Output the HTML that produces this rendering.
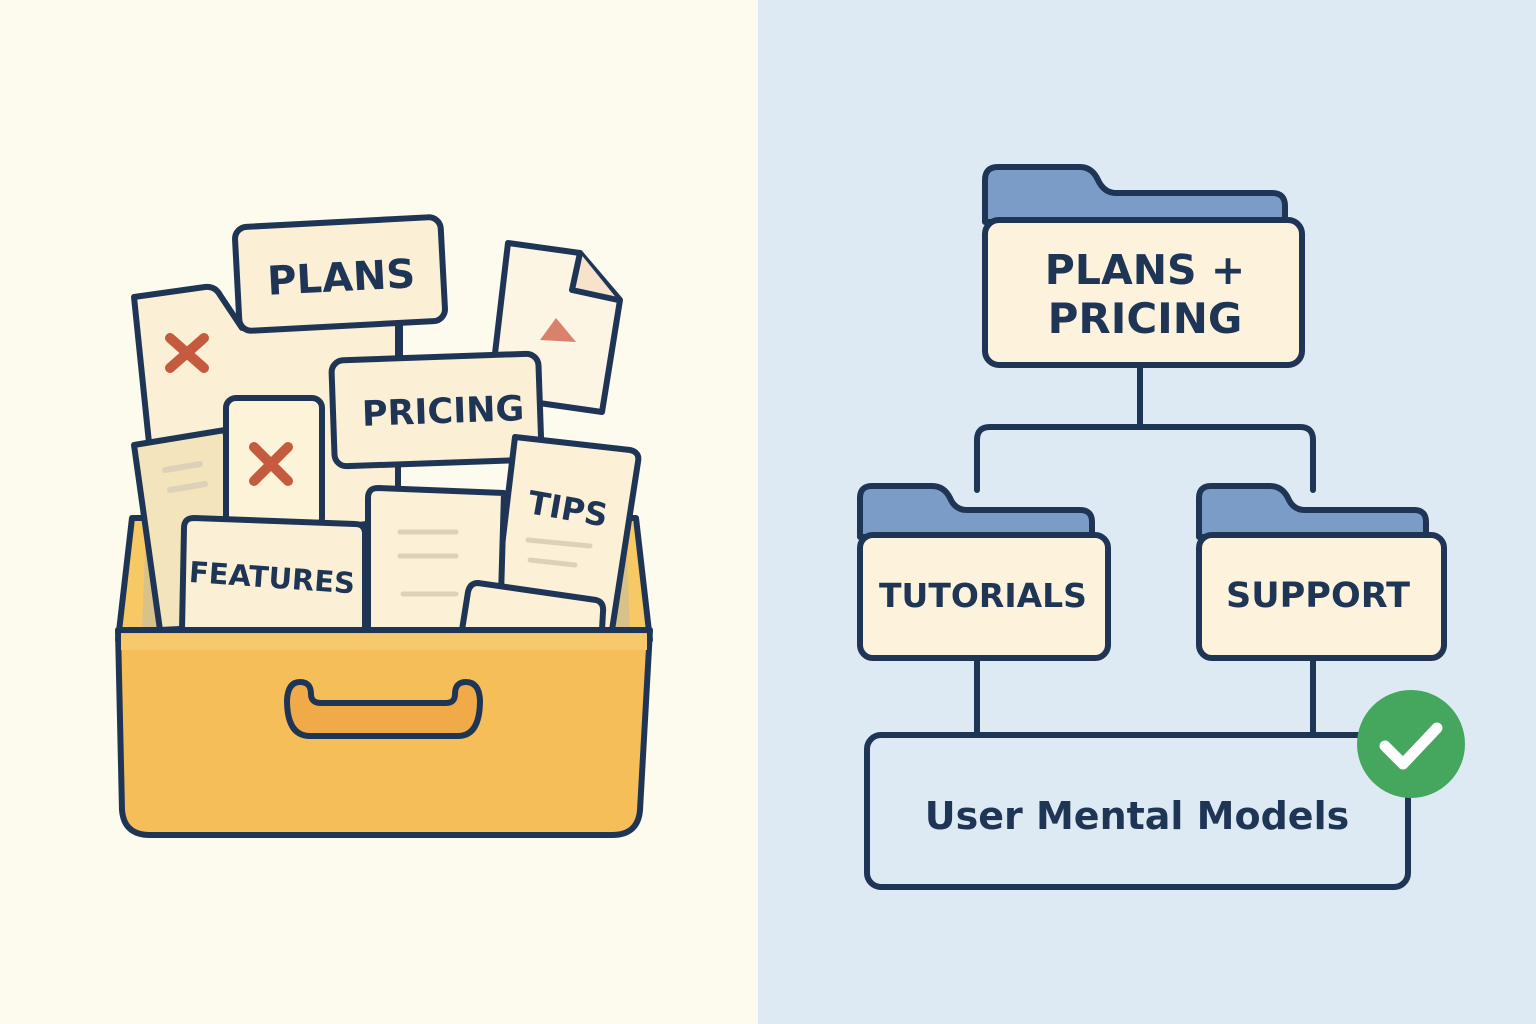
<!DOCTYPE html>
<html><head><meta charset="utf-8"><style>
html,body{margin:0;padding:0;width:1536px;height:1024px;overflow:hidden}
svg{display:block}
text{font-family:"DejaVu Sans","Liberation Sans",sans-serif;font-weight:bold;fill:#1f3556}
</style></head><body>
<svg width="1536" height="1024" viewBox="0 0 1536 1024" xmlns="http://www.w3.org/2000/svg">
<rect x="0" y="0" width="758" height="1024" fill="#fdfaee"/>
<rect x="758" y="0" width="778" height="1024" fill="#dde9f3"/>
<g stroke="#1f3556" stroke-width="6" stroke-linejoin="round" stroke-linecap="round">
<path d="M132 518 L636 518 L650 640 L118 640 Z" fill="#f6c964"/>
<path d="M146 525 L626 525 L630 630 L142 630 Z" fill="#d9c18a" stroke="none"/>
<path d="M134 297 L205 287 Q215 286 220 295 L242 328 L398 318 L398 520 L160 550 Z" fill="#fbf0d5"/>
<path d="M170 338 L204 368 M204 338 L170 368" stroke="#c45a3e" stroke-width="10"/>
<path d="M508 243 L580 253 L620 300 L602 412 L490 396 Z" fill="#fdf5e4"/>
<path d="M580 253 L572 290 L618 300" fill="#f7e3cc"/>
<path d="M540 340 L556 318 L576 342 Z" fill="#d9826b" stroke="none"/>
<path d="M400 325 L400 360" />
<rect x="237" y="222" width="206" height="104" rx="12" fill="#fbf0d5" transform="rotate(-3 340 274)"/>
<path d="M134 445 L225 430 L260 625 L160 630 Z" fill="#f3e4bc"/>
<path d="M165 470 L200 464 M170 490 L205 484" stroke="#ddd2b8" stroke-width="6"/>
<rect x="226" y="398" width="96" height="130" rx="10" fill="#fdf3d8"/>
<path d="M254 447 L288 481 M288 447 L254 481" stroke="#c45a3e" stroke-width="10"/>
<rect x="333" y="357" width="207" height="106" rx="12" fill="#fbf0d5" transform="rotate(-2 436 410)"/>
<path d="M515 437 L630 450 Q640 452 638 462 L612 630 L492 630 Z" fill="#fcf1d6"/>
<path d="M528 540 L590 546 M530 560 L575 565" stroke="#ddd2b8" stroke-width="5"/>
<path d="M378 488 L504 493 L500 630 L368 630 L368 498 Q368 488 378 488 Z" fill="#fcf1d6"/>
<path d="M400 532 L456 532 M400 556 L456 556 M403 594 L456 594" stroke="#ddd2b8" stroke-width="5"/>
<path d="M194 518 L355 524 Q365 524 365 534 L365 630 L182 630 L184 528 Q184 518 194 518 Z" fill="#fbf0d5"/>
<path d="M478 583 L596 600 Q604 602 603 612 L602 630 L462 630 L468 592 Q470 583 478 583 Z" fill="#fcf1d6"/>
<path d="M118 630 L650 630 L640 810 Q638 835 612 835 L150 835 Q124 835 122 810 Z" fill="#f6be58"/>
<rect x="121" y="634" width="526" height="16" fill="#f8c96c" stroke="none"/>
<path d="M300 682 Q288 682 287 700 Q287 736 310 736 L458 736 Q480 736 480 700 Q479 682 466 682 Q455 682 455 694 Q455 703 446 703 L321 703 Q311 703 311 694 Q311 682 300 682 Z" fill="#f0ab48"/>
</g>
<text x="341" y="291" font-size="40" text-anchor="middle" transform="rotate(-3 341 274)">PLANS</text>
<text x="443" y="423" font-size="35" text-anchor="middle" transform="rotate(-2 443 410)">PRICING</text>
<text x="272" y="588" font-size="29" text-anchor="middle" transform="rotate(4 276 578)">FEATURES</text>
<text x="568" y="520" font-size="32" text-anchor="middle" transform="rotate(10 568 508)">TIPS</text>

<g stroke="#1f3556" stroke-width="6" stroke-linejoin="round" stroke-linecap="round" fill="none">
<path d="M1140 365 L1140 427 M977 490 L977 440 Q977 427 990 427 L1300 427 Q1313 427 1313 440 L1313 490"/>
<path d="M977 658 L977 735 M1313 658 L1313 735"/>
<path d="M985 222 L985 180 Q985 167 998 167 L1080 167 Q1092 167 1098 180 Q1104 193 1116 193 L1272 193 Q1285 193 1285 206 L1285 222 Z" fill="#7b9cc6"/>
<rect x="985" y="220" width="317" height="145" rx="14" fill="#fdf3dc"/>
<path d="M860 537 L860 498 Q860 486 872 486 L932 486 Q944 486 950 498 Q955 510 967 510 L1080 510 Q1092 510 1092 522 L1092 537 Z" fill="#7b9cc6"/>
<rect x="860" y="535" width="248" height="123" rx="13" fill="#fdf3dc"/>
<path d="M1199 537 L1199 498 Q1199 486 1211 486 L1270 486 Q1282 486 1288 498 Q1293 510 1305 510 L1414 510 Q1426 510 1426 522 L1426 537 Z" fill="#7b9cc6"/>
<rect x="1199" y="535" width="245" height="123" rx="13" fill="#fdf3dc"/>
<rect x="867" y="735" width="541" height="152" rx="14" fill="#dde9f3"/>
</g>
<text x="1145" y="284" font-size="41" text-anchor="middle">PLANS +</text>
<text x="1145" y="333" font-size="42" text-anchor="middle">PRICING</text>
<text x="983" y="607" font-size="33" text-anchor="middle">TUTORIALS</text>
<text x="1318" y="607" font-size="35" text-anchor="middle">SUPPORT</text>
<text x="1137" y="829" font-size="38" text-anchor="middle">User Mental Models</text>
<circle cx="1411" cy="744" r="54" fill="#45a75e"/>
<path d="M1385 746 L1403 764 L1437 728" stroke="#fff" stroke-width="11" fill="none" stroke-linecap="round" stroke-linejoin="round"/>
</svg>
</body></html>
